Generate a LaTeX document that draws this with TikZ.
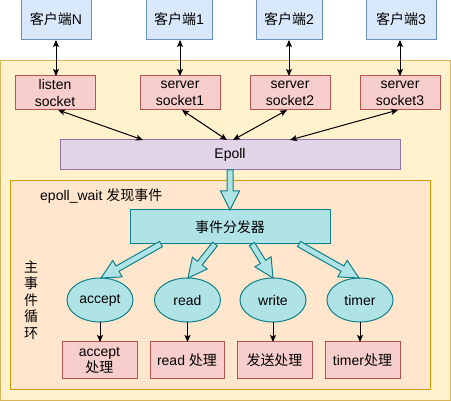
\documentclass[tikz,border=0pt]{standalone}
\usepackage{fontspec}
\setmainfont{Liberation Sans}
\newfontfamily\cjk{Noto Sans CJK SC}
\usetikzlibrary{arrows.meta,calc,shapes.geometric}
\definecolor{cliFill}{HTML}{DAE8FC}
\definecolor{cliLine}{HTML}{6C8EBF}
\definecolor{redFill}{HTML}{F8CECC}
\definecolor{redLine}{HTML}{B85450}
\definecolor{yelFill}{HTML}{FFF2CC}
\definecolor{yelLine}{HTML}{D6B656}
\definecolor{orFill}{HTML}{FFE6CC}
\definecolor{orLine}{HTML}{D79B00}
\definecolor{purFill}{HTML}{E1D5E7}
\definecolor{purLine}{HTML}{9673A6}
\definecolor{tealFill}{HTML}{B0E3E6}
\definecolor{tealLine}{HTML}{0E8088}
\tikzset{
  txt/.style={font=\fontsize{14}{16.8}\selectfont},
  box/.style={txt, draw, line width=1pt, inner sep=0pt, outer sep=0pt, align=center},
  client/.style={box, fill=cliFill, draw=cliLine, minimum height=41pt},
  sock/.style={box, fill=redFill, draw=redLine, minimum width=80pt, minimum height=34pt},
  proc/.style={box, fill=redFill, draw=redLine, minimum height=37pt},
  evt/.style={box, ellipse, fill=tealFill, draw=tealLine, minimum width=66pt, minimum height=44pt},
  link/.style={line width=1pt, {Stealth[length=7pt,width=6pt,inset=1.5pt]}-{Stealth[length=7pt,width=6pt,inset=1.5pt]}},
  onelink/.style={line width=1pt, -{Stealth[length=7pt,width=6pt,inset=1.5pt]}},
  barrow/.style={fill=tealFill, draw=tealLine, line width=1pt, line join=miter},
}
\newcommand\blockarrow[3]{%
  \coordinate (#3) at ($(#2)!19pt!(#1)$);
  \draw[barrow] ($(#1)!3pt!90:(#2)$) -- ($(#3)!3pt!90:(#2)$) -- ($(#3)!9.5pt!90:(#2)$) -- (#2)
    -- ($(#3)!9.5pt!-90:(#2)$) -- ($(#3)!3pt!-90:(#2)$) -- ($(#1)!3pt!-90:(#2)$) -- cycle;
}
\begin{document}
\begin{tikzpicture}[x=1pt,y=-1pt]
\useasboundingbox (0,0) rectangle (451,401);
% containers
\draw[fill=yelFill, draw=yelLine, line width=1pt] (0.5,60.5) rectangle (450.5,400.5);
\draw[fill=orFill, draw=orLine, line width=1pt] (10.5,181) rectangle (430.5,390);
% clients
\node[client, minimum width=70pt] (cN) at (56,19.5) {{\cjk 客户端}N};
\node[client, minimum width=66pt] (c1) at (179,19.5) {{\cjk 客户端}1};
\node[client, minimum width=66pt] (c2) at (289,19.5) {{\cjk 客户端}2};
\node[client, minimum width=70pt] (c3) at (401,19.5) {{\cjk 客户端}3};
% sockets
\node[sock] (ls) at (55,93) {listen\\socket};
\node[sock] (s1) at (180,93) {server\\socket1};
\node[sock] (s2) at (290,93) {server\\socket2};
\node[sock] (s3) at (400,93) {server\\socket3};
% epoll
\node[box, fill=purFill, draw=purLine, minimum width=340pt, minimum height=30pt] (ep) at (230,155) {Epoll};
% client <-> socket
\draw[link] (cN.south) -- (cN.south |- ls.north);
\draw[link] (s1.north |- c1.south) -- (s1.north);
\draw[link] (c2.south) -- (c2.south |- s2.north);
\draw[link] (s3.north |- c3.south) -- (s3.north);
% socket <-> epoll
\coordinate (e1) at (143,140);
\coordinate (e2) at (227,140);
\coordinate (e3) at (233,140);
\coordinate (e4) at (290,140);
\coordinate (l1) at (58,110);
\coordinate (l2) at (182,110);
\coordinate (l3) at (287,110);
\coordinate (l4) at (398,110);
\draw[link] (l1) -- (e1);
\draw[link] (l2) -- (e2);
\draw[link] (l3) -- (e3);
\draw[link] (l4) -- (e4);
% inner label
\node[txt, anchor=west, inner sep=0pt] (lbl) at (40,196) {epoll\_wait {\cjk 发现事件}};
\node[txt, inner sep=0pt, align=center, font=\fontsize{14}{16.5}\selectfont\cjk] (loop) at (31,300) {主\\事\\件\\循\\环};
% dispatcher
\node[box, fill=tealFill, draw=tealLine, minimum width=200pt, minimum height=34pt] (disp) at (230,227) {\cjk 事件分发器};
% events
\node[evt] (ea) at (100,300) {accept};
\node[evt] (er) at (187.5,300) {read};
\node[evt] (ew) at (273,300) {write};
\node[evt] (et) at (360,300) {timer};
% handlers
\node[proc, minimum width=75pt] (pa) at (99.5,360.5) {accept\\{\cjk 处理}};
\node[proc, minimum width=74pt] (pr) at (187,360.5) {read {\cjk 处理}};
\node[proc, minimum width=75pt] (pw) at (274.5,360.5) {\cjk 发送处理};
\node[proc, minimum width=75pt] (pt) at (362.5,360.5) {timer{\cjk 处理}};
\draw[onelink] (ea.south) -- (ea.south |- pa.north);
\draw[onelink] (er.south) -- (er.south |- pr.north);
\draw[onelink] (ew.south) -- (ew.south |- pw.north);
\draw[onelink] (et.south) -- (et.south |- pt.north);
% block arrows
\coordinate (eb) at (ep.south);
\coordinate (dt) at (disp.north);
\blockarrow{eb}{dt}{h0}
\coordinate (d1) at (161,244);
\coordinate (d2) at (215,244);
\coordinate (d3) at (252,244);
\coordinate (d4) at (299,244);
\coordinate (t1) at (101,278);
\coordinate (t2) at (188,278);
\coordinate (t3) at (273,278);
\coordinate (t4) at (359,278);
\blockarrow{d1}{t1}{h1}
\blockarrow{d2}{t2}{h2}
\blockarrow{d3}{t3}{h3}
\blockarrow{d4}{t4}{h4}
\end{tikzpicture}
\end{document}
